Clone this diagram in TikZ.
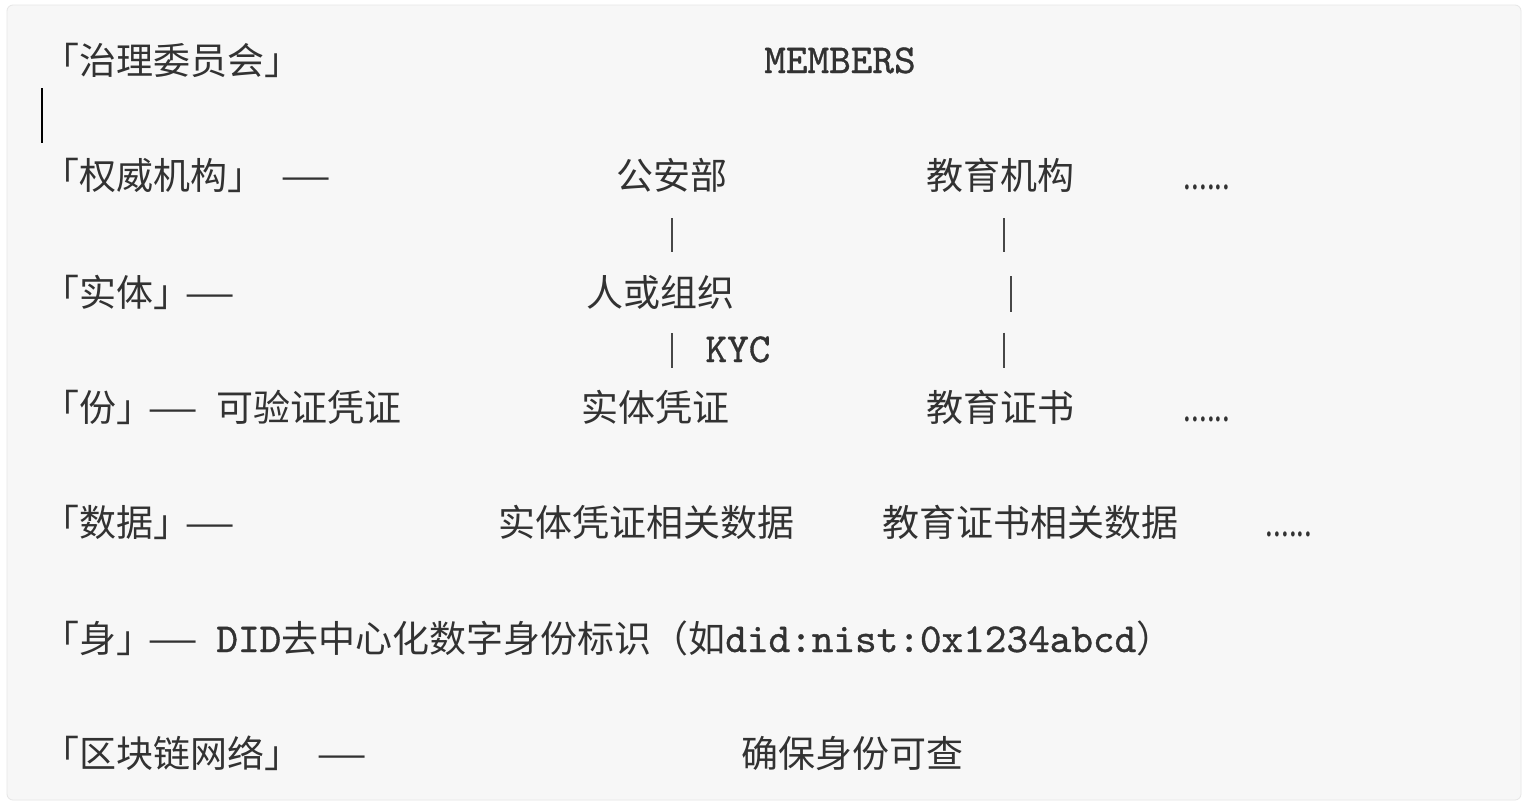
\documentclass[tikz,border=0pt]{standalone}
\usepackage{fontspec}
\newfontfamily\zh{Noto Sans CJK SC}
\newfontfamily\lmmono{lmmono10-regular.otf}[FakeBold=0.8]
\usetikzlibrary{calc}
\definecolor{paper}{RGB}{247,247,247}
\definecolor{frame}{RGB}{230,230,230}
\definecolor{ink}{RGB}{50,50,50}
\newcommand{\monotxt}{\lmmono\fontsize{20.6}{24}\selectfont}
\newcommand{\zhdash}{\scalebox{1.55}[1]{—}}
\newcommand{\zhmore}{\scalebox{0.75}[1]{......}}
\tikzstyle{zhtxt}=[inner sep=0pt, anchor=base, text=ink, text height=15.5pt, text depth=1.5pt, font=\zh\fontsize{18.5}{22}\selectfont]
\tikzstyle{zhleft}=[zhtxt, anchor=base west]
\tikzstyle{ttxt}=[inner sep=0pt, anchor=base, text=ink, font=\monotxt]
\tikzstyle{vbar}=[draw=ink!90, line width=1pt]
\tikzset{>=latex}

\begin{document}
\begin{tikzpicture}[x=0.5pt, y=-0.5pt]
\useasboundingbox (0,0) rectangle (1532,804);
\fill[white] (0,0) rectangle (1532,804);
\draw[frame, fill=paper, rounded corners=3pt] (7,5) rectangle (1521,800);
\draw[black, line width=1.4pt] (42,88) -- (42,143); % cursor

\node[zhleft] (gov) at (42,74) {「治理委员会」};
\node[ttxt] (members) at (840,73) {MEMBERS};

\node[zhleft] (auth) at (42,189) {「权威机构」};
\node[zhtxt] (authdash) at (306,189) {\zhdash};
\node[zhtxt] (police) at (672,189) {公安部};
\node[zhtxt] (edu) at (1000,189) {教育机构};
\node[zhtxt] (authmore) at (1207,189) {\zhmore};

\node[zhleft] (ent) at (42,306) {「实体」};
\node[zhtxt] (entdash) at (210,306) {\zhdash};
\node[zhtxt] (person) at (660,306) {人或组织};
\node[ttxt] (kyc) at (738,362) {KYC};

\node[zhleft] (cred) at (42,421) {「份」};
\node[zhtxt] (creddash) at (173,421) {\zhdash};
\node[zhtxt] (vc) at (309,421) {可验证凭证};
\node[zhtxt] (entcred) at (655,421) {实体凭证};
\node[zhtxt] (educert) at (1000,421) {教育证书};
\node[zhtxt] (credmore) at (1207,421) {\zhmore};

\node[zhleft] (data) at (42,536) {「数据」};
\node[zhtxt] (datadash) at (210,536) {\zhdash};
\node[zhtxt] (entdata) at (646,536) {实体凭证相关数据};
\node[zhtxt] (edudata) at (1030,536) {教育证书相关数据};
\node[zhtxt] (datamore) at (1289,536) {\zhmore};

\node[zhleft] (id) at (42,652) {「身」};
\node[zhtxt] (iddash) at (173,652) {\zhdash};
\node[zhleft] (did) at (216,652) {{\monotxt DID}去中心化数字身份标识（如{\monotxt did:nist:0x1234abcd}）};

\node[zhleft] (chain) at (42,767) {「区块链网络」};
\node[zhtxt] (chaindash) at (342,767) {\zhdash};
\node[zhtxt] (ensure) at (852,767) {确保身份可查};

% links
\draw[vbar, shorten <=13pt, shorten >=11.5pt] (police.south) -- (police.south |- person.north);
\draw[vbar, shorten <=12pt, shorten >=11pt] (police.south |- person.south) -- (police.south |- entcred.north);
\draw[vbar] ([shift={(4,26)}]edu.south) -- ++(0,34);
\draw[vbar] ([shift={(11,84)}]edu.south) -- ++(0,36);
\draw[vbar] ([shift={(4,-57)}]educert.north) -- ++(0,35);
\end{tikzpicture}
\end{document}
